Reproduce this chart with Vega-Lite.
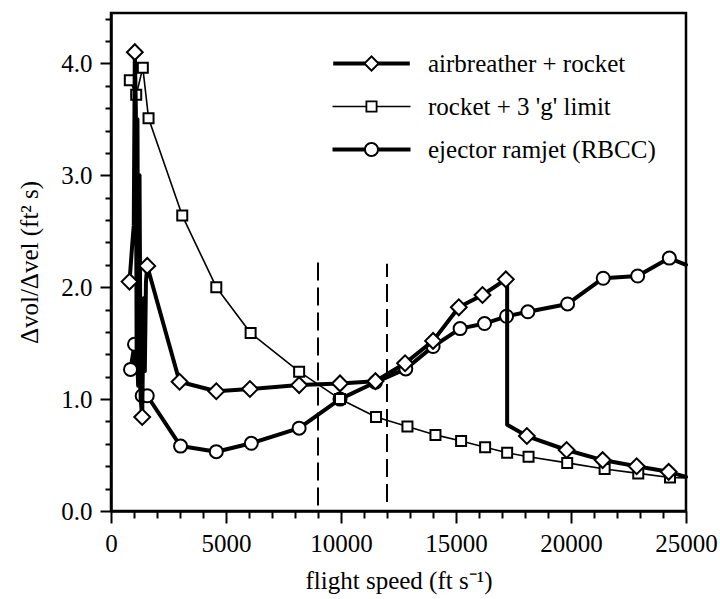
{
  "$schema": "https://vega.github.io/schema/vega-lite/v6.json",
  "width": 575,
  "height": 498,
  "autosize": {"type": "none"},
  "padding": {"left": 111, "top": 13, "right": 34, "bottom": 88},
  "background": "white",
  "config": {
    "view": {"stroke": "black", "strokeWidth": 2.5},
    "font": "Liberation Serif",
    "axis": {
      "labelFont": "Liberation Serif",
      "titleFont": "Liberation Serif",
      "labelFontSize": 25,
      "titleFontSize": 25,
      "titleFontWeight": "normal",
      "labelColor": "black",
      "titleColor": "black",
      "domainColor": "black",
      "domainWidth": 2.5,
      "tickColor": "black",
      "tickWidth": 2,
      "grid": false,
      "labelOverlap": false,
      "labelFlush": false,
      "labelBound": false
    },
    "legend": {
      "labelFont": "Liberation Serif",
      "labelFontSize": 25,
      "labelColor": "black",
      "labelLimit": 400
    }
  },
  "datasets": {
    "curves": [
      {"series": "ejector ramjet (RBCC)", "i": 0, "speed": 849, "ratio": 1.265, "marker": true},
      {"series": "ejector ramjet (RBCC)", "i": 1, "speed": 1023, "ratio": 1.49, "marker": true},
      {"series": "ejector ramjet (RBCC)", "i": 2, "speed": 1080, "ratio": 1.25, "marker": false},
      {"series": "ejector ramjet (RBCC)", "i": 3, "speed": 1130, "ratio": 1.45, "marker": false},
      {"series": "ejector ramjet (RBCC)", "i": 4, "speed": 1180, "ratio": 1.12, "marker": false},
      {"series": "ejector ramjet (RBCC)", "i": 5, "speed": 1230, "ratio": 1.38, "marker": false},
      {"series": "ejector ramjet (RBCC)", "i": 6, "speed": 1290, "ratio": 1.05, "marker": false},
      {"series": "ejector ramjet (RBCC)", "i": 7, "speed": 1357, "ratio": 1.03, "marker": true},
      {"series": "ejector ramjet (RBCC)", "i": 8, "speed": 1575, "ratio": 1.03, "marker": true},
      {"series": "ejector ramjet (RBCC)", "i": 9, "speed": 3024, "ratio": 0.58, "marker": true},
      {"series": "ejector ramjet (RBCC)", "i": 10, "speed": 4578, "ratio": 0.53, "marker": true},
      {"series": "ejector ramjet (RBCC)", "i": 11, "speed": 6101, "ratio": 0.605, "marker": true},
      {"series": "ejector ramjet (RBCC)", "i": 12, "speed": 8180, "ratio": 0.74, "marker": true},
      {"series": "ejector ramjet (RBCC)", "i": 13, "speed": 9957, "ratio": 1.0, "marker": true},
      {"series": "ejector ramjet (RBCC)", "i": 14, "speed": 11497, "ratio": 1.15, "marker": true},
      {"series": "ejector ramjet (RBCC)", "i": 15, "speed": 12816, "ratio": 1.27, "marker": true},
      {"series": "ejector ramjet (RBCC)", "i": 16, "speed": 14004, "ratio": 1.47, "marker": true},
      {"series": "ejector ramjet (RBCC)", "i": 17, "speed": 15179, "ratio": 1.63, "marker": true},
      {"series": "ejector ramjet (RBCC)", "i": 18, "speed": 16240, "ratio": 1.675, "marker": true},
      {"series": "ejector ramjet (RBCC)", "i": 19, "speed": 17198, "ratio": 1.74, "marker": true},
      {"series": "ejector ramjet (RBCC)", "i": 20, "speed": 18125, "ratio": 1.78, "marker": true},
      {"series": "ejector ramjet (RBCC)", "i": 21, "speed": 19852, "ratio": 1.85, "marker": true},
      {"series": "ejector ramjet (RBCC)", "i": 22, "speed": 21401, "ratio": 2.08, "marker": true},
      {"series": "ejector ramjet (RBCC)", "i": 23, "speed": 22898, "ratio": 2.1, "marker": true},
      {"series": "ejector ramjet (RBCC)", "i": 24, "speed": 24275, "ratio": 2.26, "marker": true},
      {"series": "ejector ramjet (RBCC)", "i": 25, "speed": 25000, "ratio": 2.2, "marker": false},

      {"series": "rocket + 3 'g' limit", "i": 0, "speed": 818, "ratio": 3.85, "marker": true},
      {"series": "rocket + 3 'g' limit", "i": 1, "speed": 1096, "ratio": 3.72, "marker": true},
      {"series": "rocket + 3 'g' limit", "i": 2, "speed": 1384, "ratio": 3.96, "marker": true},
      {"series": "rocket + 3 'g' limit", "i": 3, "speed": 1632, "ratio": 3.51, "marker": true},
      {"series": "rocket + 3 'g' limit", "i": 4, "speed": 3098, "ratio": 2.64, "marker": true},
      {"series": "rocket + 3 'g' limit", "i": 5, "speed": 4578, "ratio": 2.0, "marker": true},
      {"series": "rocket + 3 'g' limit", "i": 6, "speed": 6070, "ratio": 1.59, "marker": true},
      {"series": "rocket + 3 'g' limit", "i": 7, "speed": 8180, "ratio": 1.245, "marker": true},
      {"series": "rocket + 3 'g' limit", "i": 8, "speed": 9957, "ratio": 1.0, "marker": true},
      {"series": "rocket + 3 'g' limit", "i": 9, "speed": 11523, "ratio": 0.84, "marker": true},
      {"series": "rocket + 3 'g' limit", "i": 10, "speed": 12889, "ratio": 0.755, "marker": true},
      {"series": "rocket + 3 'g' limit", "i": 11, "speed": 14107, "ratio": 0.68, "marker": true},
      {"series": "rocket + 3 'g' limit", "i": 12, "speed": 15222, "ratio": 0.625, "marker": true},
      {"series": "rocket + 3 'g' limit", "i": 13, "speed": 16266, "ratio": 0.57, "marker": true},
      {"series": "rocket + 3 'g' limit", "i": 14, "speed": 17224, "ratio": 0.52, "marker": true},
      {"series": "rocket + 3 'g' limit", "i": 15, "speed": 18154, "ratio": 0.485, "marker": true},
      {"series": "rocket + 3 'g' limit", "i": 16, "speed": 19835, "ratio": 0.43, "marker": true},
      {"series": "rocket + 3 'g' limit", "i": 17, "speed": 21462, "ratio": 0.375, "marker": true},
      {"series": "rocket + 3 'g' limit", "i": 18, "speed": 22925, "ratio": 0.336, "marker": true},
      {"series": "rocket + 3 'g' limit", "i": 19, "speed": 24304, "ratio": 0.3, "marker": true},
      {"series": "rocket + 3 'g' limit", "i": 20, "speed": 25000, "ratio": 0.295, "marker": false},

      {"series": "airbreather + rocket", "i": 0, "speed": 805, "ratio": 2.05, "marker": true},
      {"series": "airbreather + rocket", "i": 1, "speed": 930, "ratio": 2.4, "marker": false},
      {"series": "airbreather + rocket", "i": 2, "speed": 990, "ratio": 2.55, "marker": false},
      {"series": "airbreather + rocket", "i": 3, "speed": 1036, "ratio": 4.1, "marker": true},
      {"series": "airbreather + rocket", "i": 4, "speed": 1080, "ratio": 3.6, "marker": false},
      {"series": "airbreather + rocket", "i": 5, "speed": 1115, "ratio": 1.4, "marker": false},
      {"series": "airbreather + rocket", "i": 6, "speed": 1150, "ratio": 3.5, "marker": false},
      {"series": "airbreather + rocket", "i": 7, "speed": 1190, "ratio": 1.15, "marker": false},
      {"series": "airbreather + rocket", "i": 8, "speed": 1240, "ratio": 3.0, "marker": false},
      {"series": "airbreather + rocket", "i": 9, "speed": 1290, "ratio": 1.0, "marker": false},
      {"series": "airbreather + rocket", "i": 10, "speed": 1357, "ratio": 0.84, "marker": true},
      {"series": "airbreather + rocket", "i": 11, "speed": 1420, "ratio": 1.9, "marker": false},
      {"series": "airbreather + rocket", "i": 12, "speed": 1470, "ratio": 1.25, "marker": false},
      {"series": "airbreather + rocket", "i": 13, "speed": 1520, "ratio": 2.05, "marker": false},
      {"series": "airbreather + rocket", "i": 14, "speed": 1575, "ratio": 2.19, "marker": true},
      {"series": "airbreather + rocket", "i": 15, "speed": 2981, "ratio": 1.155, "marker": true},
      {"series": "airbreather + rocket", "i": 16, "speed": 4578, "ratio": 1.07, "marker": true},
      {"series": "airbreather + rocket", "i": 17, "speed": 6040, "ratio": 1.09, "marker": true},
      {"series": "airbreather + rocket", "i": 18, "speed": 8180, "ratio": 1.125, "marker": true},
      {"series": "airbreather + rocket", "i": 19, "speed": 9957, "ratio": 1.14, "marker": true},
      {"series": "airbreather + rocket", "i": 20, "speed": 11497, "ratio": 1.16, "marker": true},
      {"series": "airbreather + rocket", "i": 21, "speed": 12785, "ratio": 1.32, "marker": true},
      {"series": "airbreather + rocket", "i": 22, "speed": 14004, "ratio": 1.52, "marker": true},
      {"series": "airbreather + rocket", "i": 23, "speed": 15122, "ratio": 1.82, "marker": true},
      {"series": "airbreather + rocket", "i": 24, "speed": 16153, "ratio": 1.93, "marker": true},
      {"series": "airbreather + rocket", "i": 25, "speed": 17167, "ratio": 2.07, "marker": true},
      {"series": "airbreather + rocket", "i": 26, "speed": 17224, "ratio": 2.07, "marker": false},
      {"series": "airbreather + rocket", "i": 27, "speed": 17224, "ratio": 0.77, "marker": false},
      {"series": "airbreather + rocket", "i": 28, "speed": 18081, "ratio": 0.67, "marker": true},
      {"series": "airbreather + rocket", "i": 29, "speed": 19808, "ratio": 0.545, "marker": true},
      {"series": "airbreather + rocket", "i": 30, "speed": 21375, "ratio": 0.455, "marker": true},
      {"series": "airbreather + rocket", "i": 31, "speed": 22854, "ratio": 0.4, "marker": true},
      {"series": "airbreather + rocket", "i": 32, "speed": 24246, "ratio": 0.35, "marker": true},
      {"series": "airbreather + rocket", "i": 33, "speed": 25000, "ratio": 0.305, "marker": false}
    ],
    "bounds": [
      {"speed": 9000, "ratio": 0.05, "ratio_top": 2.22},
      {"speed": 12000, "ratio": 0.08, "ratio_top": 2.21}
    ]
  },
  "resolve": {"axis": {"x": "independent", "y": "independent"}},
  "layer": [
    {
      "data": {"name": "bounds"},
      "mark": {"type": "rule", "color": "black", "strokeWidth": 2, "strokeDash": [18, 7]},
      "encoding": {
        "x": {
          "field": "speed", "type": "quantitative",
          "scale": {"domain": [0, 25000], "nice": false, "zero": false},
          "title": null,
          "axis": {
            "orient": "bottom",
            "values": [1000,2000,3000,4000,6000,7000,8000,9000,11000,12000,13000,14000,16000,17000,18000,19000,21000,22000,23000,24000],
            "labels": false, "domain": false, "ticks": true, "tickSize": 7, "tickWidth": 2, "tickColor": "black"
          }
        },
        "y": {
          "field": "ratio", "type": "quantitative",
          "scale": {"domain": [0, 4.45], "nice": false, "zero": false},
          "title": null,
          "axis": {
            "orient": "left",
            "values": [0.2,0.4,0.6,0.8,1.2,1.4,1.6,1.8,2.2,2.4,2.6,2.8,3.2,3.4,3.6,3.8,4.2,4.4],
            "labels": false, "domain": false, "ticks": true, "tickSize": 6, "tickWidth": 2, "tickColor": "black"
          }
        },
        "y2": {"field": "ratio_top"}
      }
    },
    {
      "encoding": {
        "x": {
          "field": "speed", "type": "quantitative",
          "scale": {"domain": [0, 25000], "nice": false, "zero": false},
          "title": "flight speed (ft s⁻¹)",
          "axis": {
            "orient": "bottom",
            "values": [0, 5000, 10000, 15000, 20000, 25000],
            "format": "d",
            "tickSize": 12,
            "labelPadding": 8,
            "titlePadding": 12
          }
        },
        "y": {
          "field": "ratio", "type": "quantitative",
          "scale": {"domain": [0, 4.45], "nice": false, "zero": false},
          "title": "Δvol/Δvel (ft² s)",
          "axis": {
            "orient": "left",
            "values": [0, 1, 2, 3, 4],
            "format": ".1f",
            "tickSize": 11,
            "labelPadding": 8,
            "titlePadding": 18
          }
        }
      },
      "layer": [
        {
          "data": {"name": "curves"},
          "transform": [{"filter": {"field": "series", "equal": "ejector ramjet (RBCC)"}}],
          "mark": {"type": "line", "color": "black", "strokeWidth": 4, "strokeJoin": "round", "strokeCap": "round"},
          "encoding": {"order": {"field": "i"}}
        },
        {
          "data": {"name": "curves"},
          "transform": [{"filter": {"and": [{"field": "series", "equal": "ejector ramjet (RBCC)"}, {"field": "marker", "equal": true}]}}],
          "mark": {"type": "point", "shape": "circle", "filled": true, "fill": "white", "stroke": "black", "strokeWidth": 2, "size": 170, "opacity": 1}
        },
        {
          "data": {"name": "curves"},
          "transform": [{"filter": {"field": "series", "equal": "rocket + 3 'g' limit"}}],
          "mark": {"type": "line", "color": "black", "strokeWidth": 1.6, "strokeJoin": "round"},
          "encoding": {"order": {"field": "i"}}
        },
        {
          "data": {"name": "curves"},
          "transform": [{"filter": {"and": [{"field": "series", "equal": "rocket + 3 'g' limit"}, {"field": "marker", "equal": true}]}}],
          "mark": {"type": "point", "shape": "square", "filled": true, "fill": "white", "stroke": "black", "strokeWidth": 2, "size": 100, "opacity": 1}
        },
        {
          "data": {"name": "curves"},
          "transform": [{"filter": {"field": "series", "equal": "airbreather + rocket"}}],
          "mark": {"type": "line", "color": "black", "strokeWidth": 4, "strokeJoin": "round", "strokeCap": "round"},
          "encoding": {"order": {"field": "i"}}
        },
        {
          "data": {"name": "curves"},
          "transform": [{"filter": {"and": [{"field": "series", "equal": "airbreather + rocket"}, {"field": "marker", "equal": true}]}}],
          "mark": {"type": "point", "shape": "diamond", "filled": true, "fill": "white", "stroke": "black", "strokeWidth": 2, "size": 250, "opacity": 1}
        },
        {
          "data": {"name": "curves"},
          "transform": [{"filter": {"field": "marker", "equal": true}}],
          "mark": {"type": "point", "filled": true, "color": "black", "opacity": 0},
          "encoding": {
            "shape": {
              "field": "series", "type": "nominal",
              "scale": {
                "domain": ["airbreather + rocket", "rocket + 3 'g' limit", "ejector ramjet (RBCC)"],
                "range": [
                  "M-3.83,-0.2H-0.6V0.2H-3.83ZM0.6,-0.2H3.83V0.2H0.6ZM-0.85,0L0,-0.85L0.85,0L0,0.85ZM-0.57,0L0,0.57L0.57,0L0,-0.57Z",
                  "M-3.9,-0.075H-0.5V0.075H-3.9ZM0.5,-0.075H3.9V0.075H0.5ZM-0.6,-0.6H0.6V0.6H-0.6ZM-0.42,-0.42V0.42H0.42V-0.42Z",
                  "M-3.9,-0.2H-0.65V0.2H-3.9ZM0.65,-0.2H3.9V0.2H0.65ZM-0.75,0A0.75,0.75 0 1,1 0.75,0A0.75,0.75 0 1,1 -0.75,0ZM-0.55,0A0.55,0.55 0 1,0 0.55,0A0.55,0.55 0 1,0 -0.55,0Z"
                ]
              },
              "legend": {
                "orient": "none", "legendX": 248, "legendY": 38, "title": null,
                "padding": 0, "symbolSize": 400, "symbolOffset": 0, "labelOffset": 44, "rowPadding": 17,
                "symbolFillColor": "black", "symbolStrokeColor": "black", "symbolStrokeWidth": 0, "symbolOpacity": 1
              }
            }
          }
        }
      ]
    }
  ]
}
